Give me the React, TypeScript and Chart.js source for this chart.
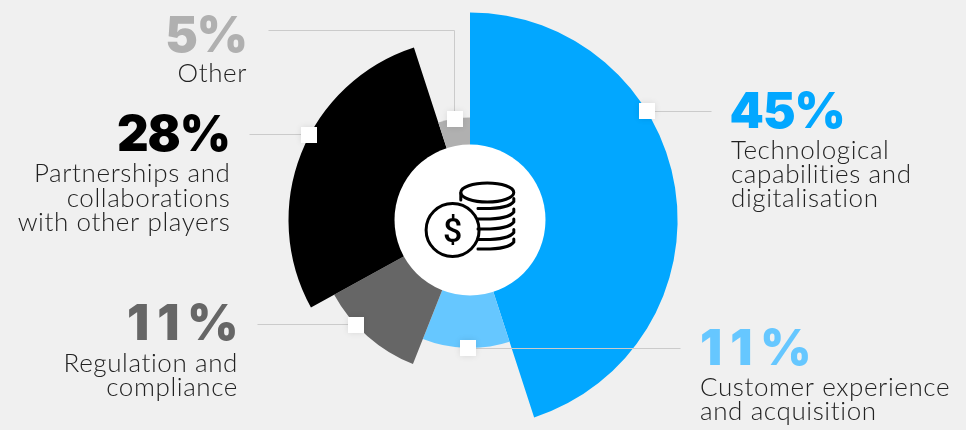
import { useEffect, useRef } from "react";
import { Chart, registerables } from "chart.js";

Chart.register(...registerables);

const categories = [
  "Technological capabilities and digitalisation",
  "Customer experience and acquisition",
  "Regulation and compliance",
  "Partnerships and collaborations with other players",
  "Other",
];
// Share of responses: sets both the printed figure and the sweep of each slice.
const shares = [45, 11, 11, 28, 5];
// Radial reach of each slice, on a 0-210 scale.
const reach = [207.6, 128, 155, 181.5, 102.5];
const colors = ["#02A7FF", "#66C7FF", "#666666", "#000000", "#B0B0B0"];
const percentColors = ["#02A7FF", "#66C7FF", "#666666", "#000000", "#B0B0B0"];
// Clock bearing of each slice's white marker along its outer edge.
const markerBearings = [58.4, 181, 227.5, 297.8, 351.5];
const labelLines = [
  ["Technological", "capabilities and", "digitalisation"],
  ["Customer experience", "and acquisition"],
  ["Regulation and", "compliance"],
  ["Partnerships and", "collaborations", "with other players"],
  ["Other"],
];
// Tracking applied to the big figures; the narrow digit 1 needs it opened up.
const percentTracking = [-1, 8, 8, -1, -1];

type Block = {
  x: number;
  percentX: number;
  align: CanvasTextAlign;
  percentBase: number;
  lineBases: number[];
  leader: number[][];
};

const blocks: Block[] = [
  { x: 731, percentX: 729.5, align: "left", percentBase: 128, lineBases: [159, 183, 207], leader: [[711, 111.5]] },
  { x: 700, percentX: 700, align: "left", percentBase: 365, lineBases: [396, 420], leader: [[680, 348.5]] },
  { x: 238, percentX: 246.5, align: "right", percentBase: 340, lineBases: [372, 396], leader: [[257, 324]] },
  { x: 230.5, percentX: 230, align: "right", percentBase: 151, lineBases: [182, 207, 231], leader: [[249, 134]] },
  { x: 247, percentX: 247, align: "right", percentBase: 52, lineBases: [82], leader: [[268, 30], [455, 30]] },
];

const BOLD_FONT = '900 49px Inter, Lato, sans-serif';
const BODY_FONT = '300 26px Lato, "Noto Sans", sans-serif';

function drawCoins(ctx: CanvasRenderingContext2D) {
  ctx.strokeStyle = "#000";
  ctx.lineWidth = 3;
  ctx.lineCap = "round";
  ctx.beginPath();
  ctx.arc(-17.4, 10, 26.5, 0, Math.PI * 2);
  ctx.stroke();
  ctx.beginPath();
  ctx.ellipse(17.3, -27.5, 26.5, 9.5, 0, 0, Math.PI * 2);
  ctx.stroke();
  ctx.beginPath();
  ctx.moveTo(-9.2, -27);
  ctx.lineTo(-9.2, -20);
  ctx.stroke();
  for (const y of [-11.5, -1, 9, 19.5, 29]) {
    ctx.beginPath();
    ctx.moveTo(43.8, y - 10);
    ctx.lineTo(43.8, y - 7);
    ctx.quadraticCurveTo(38, y + 1, 8, y);
    ctx.stroke();
  }
  ctx.fillStyle = "#000";
  ctx.font = '500 34px Roboto, sans-serif';
  ctx.textAlign = "center";
  ctx.textBaseline = "alphabetic";
  ctx.fillText("$", -17.4, 22);
}

const annotations = {
  id: "annotations",
  afterDatasetsDraw(chart: Chart) {
    const ctx = chart.ctx;
    const arcs = chart.getDatasetMeta(0).data as any[];
    const cx = arcs[0].x;
    const cy = arcs[0].y;

    const anchors = markerBearings.map((deg, i) => {
      const a = (deg * Math.PI) / 180;
      const r = arcs[i].outerRadius;
      return [cx + r * Math.sin(a), cy - r * Math.cos(a)];
    });

    // Centre disc with the coin icon.
    ctx.save();
    ctx.fillStyle = "#fff";
    ctx.beginPath();
    ctx.arc(cx, cy, 75.5, 0, Math.PI * 2);
    ctx.fill();
    ctx.translate(cx, cy);
    drawCoins(ctx);
    ctx.restore();

    // Leader lines run from each text block to the slice edge.
    ctx.save();
    ctx.strokeStyle = "#CBCBCB";
    ctx.lineWidth = 1;
    blocks.forEach((b, i) => {
      const [ax, ay] = anchors[i];
      const start = b.leader[0];
      ctx.beginPath();
      ctx.moveTo(Math.round(start[0]) + 0.5, Math.floor(start[1]) + 0.5);
      if (b.leader.length > 1) {
        // Elbow: across, then down to the marker.
        const corner = b.leader[1];
        ctx.lineTo(Math.round(corner[0]) - 0.5, Math.floor(corner[1]) + 0.5);
        ctx.lineTo(Math.round(corner[0]) - 0.5, ay);
      } else {
        ctx.lineTo(ax, Math.floor(start[1]) + 0.5);
      }
      ctx.stroke();
    });
    ctx.restore();

    // White square markers.
    ctx.save();
    anchors.forEach(([x, y]) => {
      ctx.shadowColor = "rgba(0,0,0,0.10)";
      ctx.shadowBlur = 6;
      ctx.fillStyle = "#fff";
      ctx.fillRect(Math.round(x - 8), Math.round(y - 8), 16, 16);
    });
    ctx.restore();

    // Figures and category text.
    ctx.save();
    ctx.textBaseline = "alphabetic";
    blocks.forEach((b, i) => {
      ctx.textAlign = b.align;
      ctx.font = BOLD_FONT;
      (ctx as any).letterSpacing = `${percentTracking[i]}px`;
      ctx.fillStyle = percentColors[i];
      ctx.fillText(`${shares[i]}%`, b.percentX, b.percentBase);
      ctx.font = BODY_FONT;
      (ctx as any).letterSpacing = "0.6px";
      ctx.fillStyle = "#222222";
      labelLines[i].forEach((line, k) => ctx.fillText(line, b.x, b.lineBases[k]));
    });
    ctx.restore();
  },
};

export default function App() {
  const ref = useRef<HTMLCanvasElement>(null);
  useEffect(() => {
    const chart = new Chart(ref.current!, {
      type: "polarArea",
      data: {
        labels: categories,
        datasets: [
          {
            data: reach,
            backgroundColor: colors,
            borderWidth: 0,
            angle: (c: any) => shares[c.dataIndex] * 3.6,
          } as any,
        ],
      },
      options: {
        responsive: false,
        animation: false,
        layout: { padding: { top: 10, right: 26 } },
        plugins: { legend: { display: false }, tooltip: { enabled: false } },
        scales: {
          r: {
            min: 0,
            max: 210,
            display: false,
            grid: { display: false },
            ticks: { display: false },
            pointLabels: { display: false },
          },
        },
      },
      plugins: [annotations],
    });
    return () => chart.destroy();
  }, []);
  return (
    <div style={{ position: "fixed", left: 0, top: 0, width: 966, height: 430, background: "#F0F0F0" }}>
      <canvas ref={ref} width={966} height={430} style={{ display: "block" }} />
    </div>
  );
}
